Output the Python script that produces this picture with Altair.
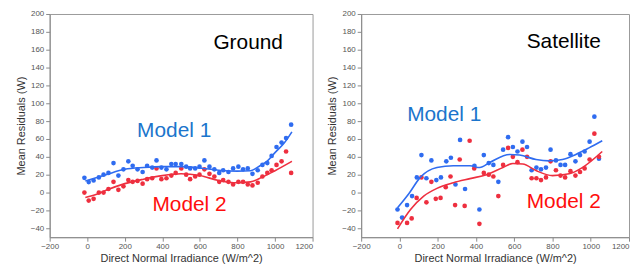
import altair as alt
import pandas as pd

FONT = "Liberation Sans"
BLUE_PT = "#2f6cf0"
RED_PT = "#ee2f3f"
BLUE_TXT = "#1b75cc"
RED_TXT = "#ff0d0d"

# ---- Ground panel data ----
g_x = [-15, 8, 34, 62, 87, 113, 140, 166, 193, 219, 242, 268, 295, 319, 346, 369, 395, 422, 448, 471, 501, 527,
       548, 575, 598, 624, 651, 677, 703, 724, 752, 777, 805, 830, 855, 880, 908, 933, 959, 982, 1008, 1035, 1059, 1086]
g_m1 = [16.5, 11.7, 13.5, 17, 20, 22, 33, 19, 26, 35, 30, 26, 23, 30, 28, 36, 28, 26, 32, 32, 32, 29,
        27, 27, 29, 36, 29, 26, 22, 25, 23, 27, 29, 26, 27, 21, 25, 31, 33, 41, 51, 56, 61, 76]
g_m2 = [0, -9, -7, 0, 0, 4, 12, 3, 7, 14, 12, 13, 10, 15, 16, 27, 15, 16, 19, 22, 27, 20,
        15, 18, 20, 26, 21, 18, 12, 14, 12, 9, 12, 12, 9, 8, 11, 18, 22, 25, 31, 35, 46, 22]
g_c1_x = [-10, 100, 200, 300, 400, 500, 600, 700, 800, 870, 920, 960, 1000, 1050, 1090]
g_c1_y = [13, 20, 26, 28, 29, 29, 27.5, 25, 24, 24.5, 30, 35.5, 44.7, 55.7, 68]
g_c2_x = [-10, 50, 100, 200, 300, 400, 500, 600, 700, 780, 870, 930, 1000, 1090]
g_c2_y = [-5.5, -2, 2.5, 10, 15, 19, 21, 19, 13.5, 11, 12, 17, 24.5, 35]

# ---- Satellite panel data ----
s_x1 = [-10, 14, 40, 66, 91, 115, 141, 167, 193, 217, 245, 269, 293, 317, 343, 392, 418, 441, 467, 491, 517,
        542, 568, 593, 617, 643, 667, 691, 716, 740, 766, 790, 818, 842, 866, 894, 920, 944, 968, 994, 1019, 1043]
s_m1 = [-19, -28, -14, -4, 17, 42, 16, 36, 14, 17, 35, 39, 9, 59, 4, 30, -19, 42, 33, 31, 12,
        48, 62, 51, 46, 57, 51, 25, 28, 26, 28, 48, 36, 31, 31, 43, 35, 42, 46, 57, 85, 38]
s_x2 = [-10, 40, 64, 90, 115, 141, 167, 190, 215, 242, 267, 291, 315, 341, 367, 391, 418, 441, 467, 491, 517,
        542, 568, 593, 617, 643, 667, 691, 716, 740, 766, 790, 818, 842, 866, 894, 920, 944, 968, 994, 1019, 1043]
s_m2 = [-34, -34, -29, -6, 17, -11, 12, -7, -6, 6, 18, -14, 37, -15, 58, 27, -35, 22, 20, 18, -4,
        31, 50, 40, 34, 48, 40, 16, 16, 14, 17, 35, 25, 19, 17, 24, 19, 23, 27, 37, 66, 40]
s_c1_x = [-10, 50, 109, 196, 282, 369, 420, 472, 576, 628, 714, 783, 852, 922, 991, 1060]
s_c1_y = [-17, -1, 17, 28, 30, 30, 28, 33.7, 42.7, 42, 37, 35.5, 37, 42.7, 50, 58]
s_c2_x = [-10, 58, 127, 196, 282, 369, 455, 541, 593, 645, 714, 800, 887, 956, 1060]
s_c2_y = [-40.6, -19, -4, 4.7, 11, 15.6, 20, 28, 32.6, 32, 24.6, 19, 21, 28, 46]

# ---- Annotations ----
g_labels = ["Ground", "Model 1", "Model 2"]
g_lab_x = [857, 463, 545]
g_lab_y = [168, 69, -14]
s_labels = ["Satellite", "Model 1", "Model 2"]
s_lab_x = [859, 234, 859]
s_lab_y = [169, 87, -11]
lab_colors = ["#000000", BLUE_TXT, RED_TXT]

x_ticks = list(range(-200, 1201, 200))
y_ticks = list(range(-40, 201, 20))

SERIES = ["Model 1", "Model 2"]
color_scale = alt.Scale(domain=SERIES, range=[BLUE_PT, RED_PT])


def xenc():
    return alt.X("x:Q",
                 scale=alt.Scale(domain=[-200, 1200], nice=False, zero=False),
                 axis=alt.Axis(title="Direct Normal Irradiance (W/m^2)", values=x_ticks, format="d",
                               labelOverlap=False, labelFlush=False, grid=False,
                               labelAlign={"condition": {"test": "datum.value >= 1200", "value": "right"},
                                           "value": "center"},
                               labelFontSize=8, titleFontSize=11, tickSize=4, labelPadding=1,
                               titlePadding=3))


def yenc():
    return alt.Y("y:Q",
                 scale=alt.Scale(domain=[-50, 200], nice=False, zero=False),
                 axis=alt.Axis(title="Mean Residuals (W)", values=y_ticks, format="d",
                               labelOverlap=False, labelFlush=False, grid=False,
                               labelFontSize=8, titleFontSize=11, tickSize=4, labelPadding=2,
                               titlePadding=4))


def panel(px1, py1, px2, py2, c1x, c1y, c2x, c2y, labs, lx, ly, width):
    pts = pd.DataFrame({
        "x": list(px1) + list(px2),
        "y": list(py1) + list(py2),
        "series": ["Model 1"] * len(px1) + ["Model 2"] * len(px2),
    })
    crv = pd.DataFrame({
        "x": list(c1x) + list(c2x),
        "y": list(c1y) + list(c2y),
        "series": ["Model 1"] * len(c1x) + ["Model 2"] * len(c2x),
    })
    txt = pd.DataFrame({"x": lx, "y": ly, "label": labs, "c": lab_colors})

    points = alt.Chart(pts).mark_circle(size=22, opacity=1).encode(
        x=xenc(), y=yenc(),
        color=alt.Color("series:N", scale=color_scale, legend=None),
    )
    lines = alt.Chart(crv).mark_line(strokeWidth=1.6, interpolate="monotone").encode(
        x=xenc(), y=yenc(),
        color=alt.Color("series:N", scale=color_scale, legend=None),
        detail="series:N",
    )
    texts = alt.Chart(txt).mark_text(fontSize=21, font=FONT, align="center", baseline="middle").encode(
        x=xenc(), y=yenc(), text="label:N",
        color=alt.Color("c:N", scale=None),
    )
    return alt.layer(points, lines, texts).properties(width=width, height=225)


left = panel(g_x, g_m1, g_x, g_m2, g_c1_x, g_c1_y, g_c2_x, g_c2_y, g_labels, g_lab_x, g_lab_y, 265)
right = panel(s_x1, s_m1, s_x2, s_m2, s_c1_x, s_c1_y, s_c2_x, s_c2_y, s_labels, s_lab_x, s_lab_y, 270)

chart = alt.hconcat(left, right, spacing=12).properties(
    padding={"left": 6, "top": 0, "right": 0, "bottom": 0},
    background="white",
).configure_view(
    stroke="#9a9a9a", strokeWidth=1
).configure_axis(
    grid=False, domainColor="#8a8a8a", tickColor="#8a8a8a", labelColor="#555555",
    titleColor="#333333", labelFont=FONT, titleFont=FONT, titleFontWeight="normal",
)

chart.save("out.html", embed_options={"renderer": "svg", "actions": False})
